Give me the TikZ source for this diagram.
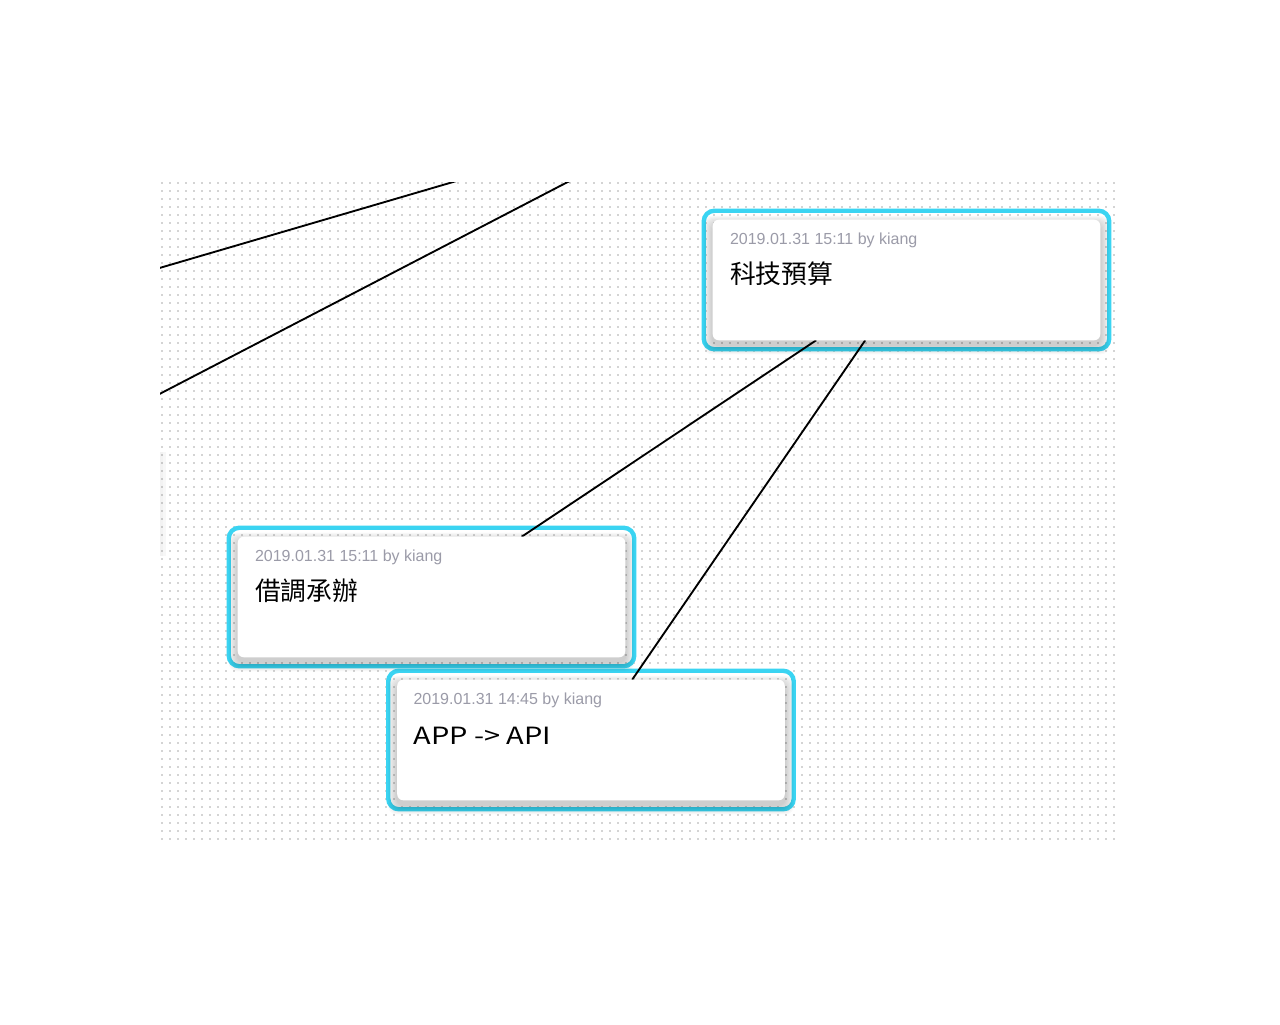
\documentclass[tikz,border=0pt]{standalone}
\usepackage{fontspec}
\setmainfont{Liberation Sans}
\newfontfamily\cjk{Noto Sans CJK TC}
\newfontfamily\wide[FakeStretch=1.22]{Noto Sans CJK TC}
\usetikzlibrary{positioning,fit,calc}
\definecolor{cvCyan}{RGB}{58,212,242}
\definecolor{cvDot}{RGB}{212,212,212}
\definecolor{cvMeta}{RGB}{155,155,168}

\begin{document}
\begin{tikzpicture}[
  x=0.75pt, y=-0.75pt,
  slot/.style={inner sep=0pt, minimum width=290.25pt, minimum height=90pt},
  card/.style={fill=white, rounded corners=4.5pt},
  sel/.style={draw=cvCyan, line width=3.3pt, rounded corners=8pt, inner sep=6.75pt},
  meta/.style={anchor=base west, inner sep=0pt, text=cvMeta,
    font=\fontsize{12}{14}\selectfont},
  title/.style={anchor=base west, inner sep=0pt,
    font=\cjk\fontsize{19.3}{23}\selectfont},
  wtitle/.style={title, font=\wide\fontsize{17.8}{22}\selectfont},
  link/.style={line width=1.4pt, black},
  dots/.style={cvDot, line width=1.5pt, dash pattern=on 1.5pt off 4.5pt}
]
  \useasboundingbox (0,0) rectangle (1280,1024);

  % card slots (drawn later)
  \path (906.5,280) node[slot] (c1) {};
  \path (431.5,597) node[slot] (c2) {};
  \path (591,740) node[slot] (c3) {};

  \begin{scope}
    \clip (160,182) rectangle (1116,841);
    % dotted canvas
    \foreach \r in {0,...,82}
      \draw[dots] (161,183+8*\r) -- (1117,183+8*\r);
    % shadow of a card off the left edge
    \fill[black, opacity=.05] (160,452) rectangle (163,556);
    \fill[black, opacity=.03] (163,452) rectangle (166,556);
    % links to cards outside the view
    \coordinate (up) at (716,105);
    \coordinate (farA) at (-100,344);
    \coordinate (farB) at (-35,495);
    \draw[link] (up) -- (farA);
    \draw[link] (up) -- (farB);
  \end{scope}

  % selection frames
  \node[sel, fit=(c1)] (s1) {};
  \node[sel, fit=(c2)] (s2) {};
  \node[sel, fit=(c3)] (s3) {};

  % soft shadows
  \foreach \c in {c1,c2,c3}
    \foreach \s in {1,...,9}
      \fill[black, opacity=.024, rounded corners=6pt]
        ([shift={(-\s,5-\s)}]\c.north west) rectangle ([shift={(\s,5+\s)}]\c.south east);

  \draw[link] (c1) -- (c2);
  \draw[link] (c1) -- (c3);

  % cards
  \foreach \c in {c1,c2,c3}
    \fill[card] (\c.north west) rectangle (\c.south east);

  \node[meta] (m1) at ($(c1.north west)+(17,25)$) {2019.01.31 15:11 by kiang};
  \node[title] (t1) at ($(c1.north west)+(17,64)$) {科技預算};
  \node[meta] (m2) at ($(c2.north west)+(17,25)$) {2019.01.31 15:11 by kiang};
  \node[title] (t2) at ($(c2.north west)+(17,64)$) {借調承辦};
  \node[meta] (m3) at ($(c3.north west)+(16,25)$) {2019.01.31 14:45 by kiang};
  \node[wtitle] (t3) at ($(c3.north west)+(16,65)$) {APP -> API};
\end{tikzpicture}
\end{document}
